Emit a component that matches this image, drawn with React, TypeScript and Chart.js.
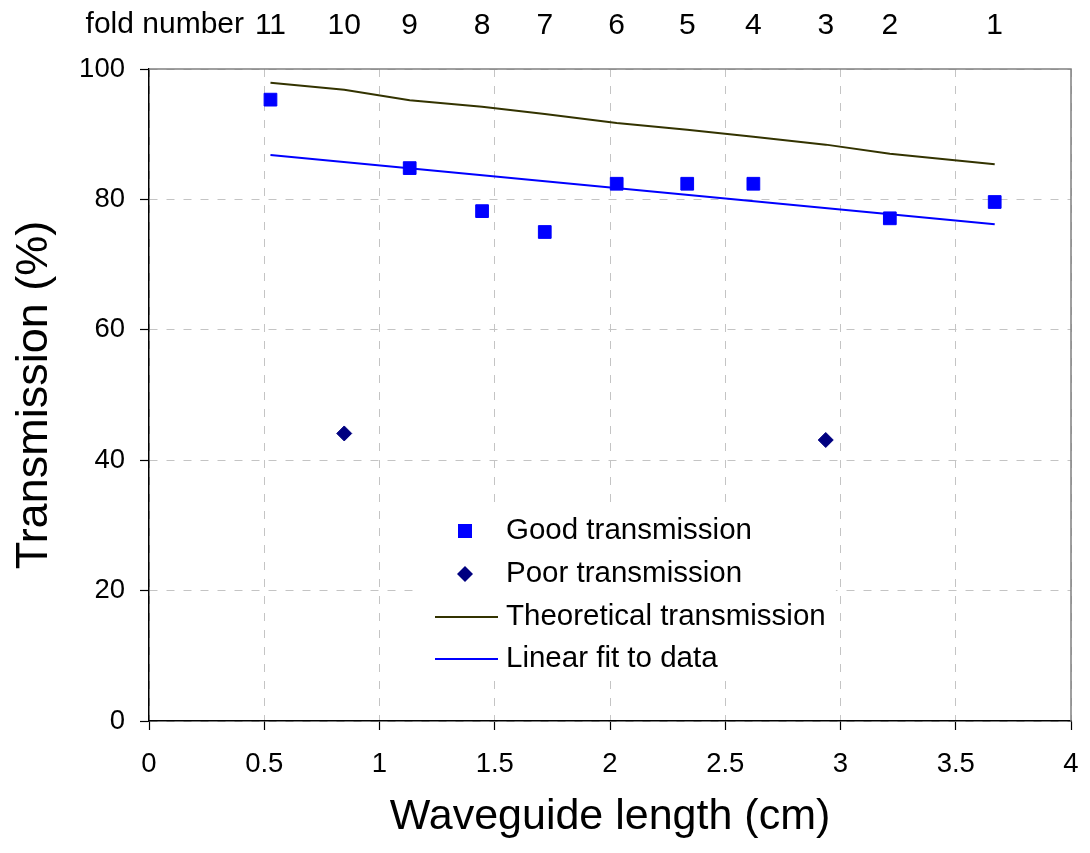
import { useEffect, useRef } from "react";
import { Chart, registerables } from "chart.js";

Chart.register(...registerables);

// ---- data ----
const foldNumbers = [11, 10, 9, 8, 7, 6, 5, 4, 3, 2, 1];
const foldLengths = [0.527, 0.847, 1.131, 1.445, 1.717, 2.029, 2.335, 2.622, 2.936, 3.214, 3.669];
const goodFolds = [11, 9, 8, 7, 6, 5, 4, 2, 1];
const goodTransmission = [95.3, 84.8, 78.2, 75.0, 82.4, 82.4, 82.4, 77.1, 79.6];
const poorFolds = [10, 3];
const poorTransmission = [44.1, 43.1];
const theoreticalTransmission = [97.9, 96.8, 95.2, 94.2, 93.1, 91.7, 90.7, 89.6, 88.4, 87.0, 85.4];
const fitLengths = [0.527, 3.669];
const fitTransmission = [86.8, 76.2];
const xTickValues = [0, 0.5, 1, 1.5, 2, 2.5, 3, 3.5, 4];
const yTickValues = [0, 20, 40, 60, 80, 100];
const legendLabels = ["Good transmission", "Poor transmission", "Theoretical transmission", "Linear fit to data"];

const FONT = "'Liberation Sans', Arial, sans-serif";
const lengthOf = (fold: number) => foldLengths[foldNumbers.indexOf(fold)];

const decorPlugin = {
  id: "decor",
  beforeDatasetsDraw(chart: any) {
    const { ctx, chartArea } = chart;
    const xs = chart.scales.x;
    const ys = chart.scales.y;
    // legend background box
    ctx.save();
    ctx.fillStyle = "#ffffff";
    const l = xs.getPixelForValue(1.17);
    const r = xs.getPixelForValue(2.98);
    const t = ys.getPixelForValue(32.7);
    const b = ys.getPixelForValue(6.2);
    ctx.fillRect(l, t, r - l, b - t);
    // plot frame (top, right)
    ctx.strokeStyle = "#808080";
    ctx.lineWidth = 1.5;
    ctx.beginPath();
    ctx.moveTo(chartArea.left, chartArea.top);
    ctx.lineTo(chartArea.right, chartArea.top);
    ctx.lineTo(chartArea.right, chartArea.bottom);
    ctx.stroke();
    ctx.restore();
  },
  afterDraw(chart: any) {
    const { ctx, chartArea } = chart;
    ctx.save();
    // y title
    ctx.fillStyle = "#000";
    ctx.font = `45px ${FONT}`;
    ctx.textAlign = "center";
    ctx.textBaseline = "middle";
    ctx.translate(35, (chartArea.top + chartArea.bottom) / 2);
    ctx.rotate(-Math.PI / 2);
    ctx.fillText("Transmission (%)", 0, 0);
    ctx.restore();

    ctx.save();
    ctx.fillStyle = "#000";
    ctx.font = `30px ${FONT}`;
    ctx.textAlign = "right";
    ctx.textBaseline = "alphabetic";
    ctx.fillText("fold number", 244, 33);

    // legend
    const lx = 465;
    const tx = 506;
    const rows = [531, 574, 617, 659];
    ctx.font = `29.5px ${FONT}`;
    ctx.textAlign = "left";
    ctx.textBaseline = "middle";
    legendLabels.forEach((lab, i) => ctx.fillText(lab, tx, rows[i]));
    ctx.fillStyle = "#0000ff";
    ctx.fillRect(lx - 7, rows[0] - 7, 14, 14);
    ctx.fillStyle = "#000080";
    ctx.beginPath();
    ctx.moveTo(lx - 8, rows[1]);
    ctx.lineTo(lx, rows[1] - 8);
    ctx.lineTo(lx + 8, rows[1]);
    ctx.lineTo(lx, rows[1] + 8);
    ctx.closePath();
    ctx.fill();
    ctx.lineWidth = 2;
    ctx.strokeStyle = "#333300";
    ctx.beginPath();
    ctx.moveTo(435, rows[2]);
    ctx.lineTo(498, rows[2]);
    ctx.stroke();
    ctx.strokeStyle = "#0000ff";
    ctx.beginPath();
    ctx.moveTo(435, rows[3]);
    ctx.lineTo(498, rows[3]);
    ctx.stroke();
    ctx.restore();
  },
};

export default function App() {
  const ref = useRef<HTMLCanvasElement | null>(null);

  useEffect(() => {
    if (!ref.current) return;
    const gridOpts: any = {
      color: "#c4c4c4",
      lineWidth: 1,
      borderDash: [8, 9],
      tickColor: "#000",
      tickLength: 9,
      tickWidth: 1.2,
      tickBorderDash: [],
    };
    const zeroPad = (s: any) => {
      s.paddingLeft = 0;
      s.paddingRight = 0;
    };
    const chart = new Chart(ref.current, {
      type: "scatter",
      data: {
        datasets: [
          {
            label: "Theoretical transmission",
            data: foldLengths.map((x, i) => ({ x, y: theoreticalTransmission[i] })),
            showLine: true,
            borderColor: "#333300",
            borderWidth: 2,
            pointRadius: 0,
            tension: 0,
          },
          {
            label: "Linear fit to data",
            data: fitLengths.map((x, i) => ({ x, y: fitTransmission[i] })),
            showLine: true,
            borderColor: "#0000ff",
            borderWidth: 2,
            pointRadius: 0,
          },
          {
            label: "Good transmission",
            data: goodFolds.map((f, i) => ({ x: lengthOf(f), y: goodTransmission[i] })),
            pointStyle: "rect",
            pointRadius: 9,
            backgroundColor: "#0000ff",
            borderColor: "#0000ff",
            borderWidth: 1,
          },
          {
            label: "Poor transmission",
            data: poorFolds.map((f, i) => ({ x: lengthOf(f), y: poorTransmission[i] })),
            pointStyle: "rectRot",
            pointRadius: 7.5,
            backgroundColor: "#000080",
            borderColor: "#000080",
            borderWidth: 1,
          },
        ],
      },
      options: {
        animation: false,
        responsive: false,
        maintainAspectRatio: false,
        layout: { padding: { left: 0, right: 19, top: 0, bottom: 0 } },
        plugins: { legend: { display: false }, tooltip: { enabled: false } },
        scales: {
          x: {
            type: "linear",
            position: "bottom",
            min: 0,
            max: 4,
            afterBuildTicks: (s: any) => {
              s.ticks = xTickValues.map((v) => ({ value: v }));
            },
            afterFit: (s: any) => {
              s.height = 132;
              zeroPad(s);
            },
            ticks: {
              color: "#000",
              font: { family: FONT, size: 27.5 },
              padding: 18,
              maxRotation: 0,
              callback: (v: any) => String(v),
            },
            grid: gridOpts,
            border: { display: true, color: "#000", width: 1.5, dash: [8, 9] } as any,
            title: {
              display: true,
              text: "Waveguide length (cm)",
              color: "#000",
              font: { family: FONT, size: 43 },
              padding: { top: 0, bottom: 10 },
            },
          },
          x2: {
            type: "linear",
            position: "top",
            min: 0,
            max: 4,
            afterBuildTicks: (s: any) => {
              s.ticks = foldLengths.map((v) => ({ value: v }));
            },
            afterFit: (s: any) => {
              s.height = 69;
              zeroPad(s);
            },
            ticks: {
              color: "#000",
              font: { family: FONT, size: 30 },
              padding: 25,
              maxRotation: 0,
              autoSkip: false,
              callback: (v: any) => {
                const i = foldLengths.indexOf(v);
                return i >= 0 ? String(foldNumbers[i]) : "";
              },
            },
            grid: { drawOnChartArea: false, drawTicks: false },
            border: { display: false },
          },
          y: {
            type: "linear",
            position: "left",
            min: 0,
            max: 100,
            afterBuildTicks: (s: any) => {
              s.ticks = yTickValues.map((v) => ({ value: v }));
            },
            afterFit: (s: any) => {
              s.width = 149;
            },
            ticks: {
              color: "#000",
              font: { family: FONT, size: 27.5 },
              padding: 15,
              callback: (v: any) => String(v),
            },
            grid: gridOpts,
            border: { display: true, color: "#000", width: 1.5, dash: [8, 9] } as any,
          },
        },
      },
      plugins: [decorPlugin],
    } as any);
    return () => chart.destroy();
  }, []);

  return (
    <div style={{ position: "fixed", left: 0, top: 0, width: 1090, height: 853, background: "#fff" }}>
      <canvas ref={ref} width={1090} height={853} style={{ width: 1090, height: 853, display: "block" }} />
    </div>
  );
}
